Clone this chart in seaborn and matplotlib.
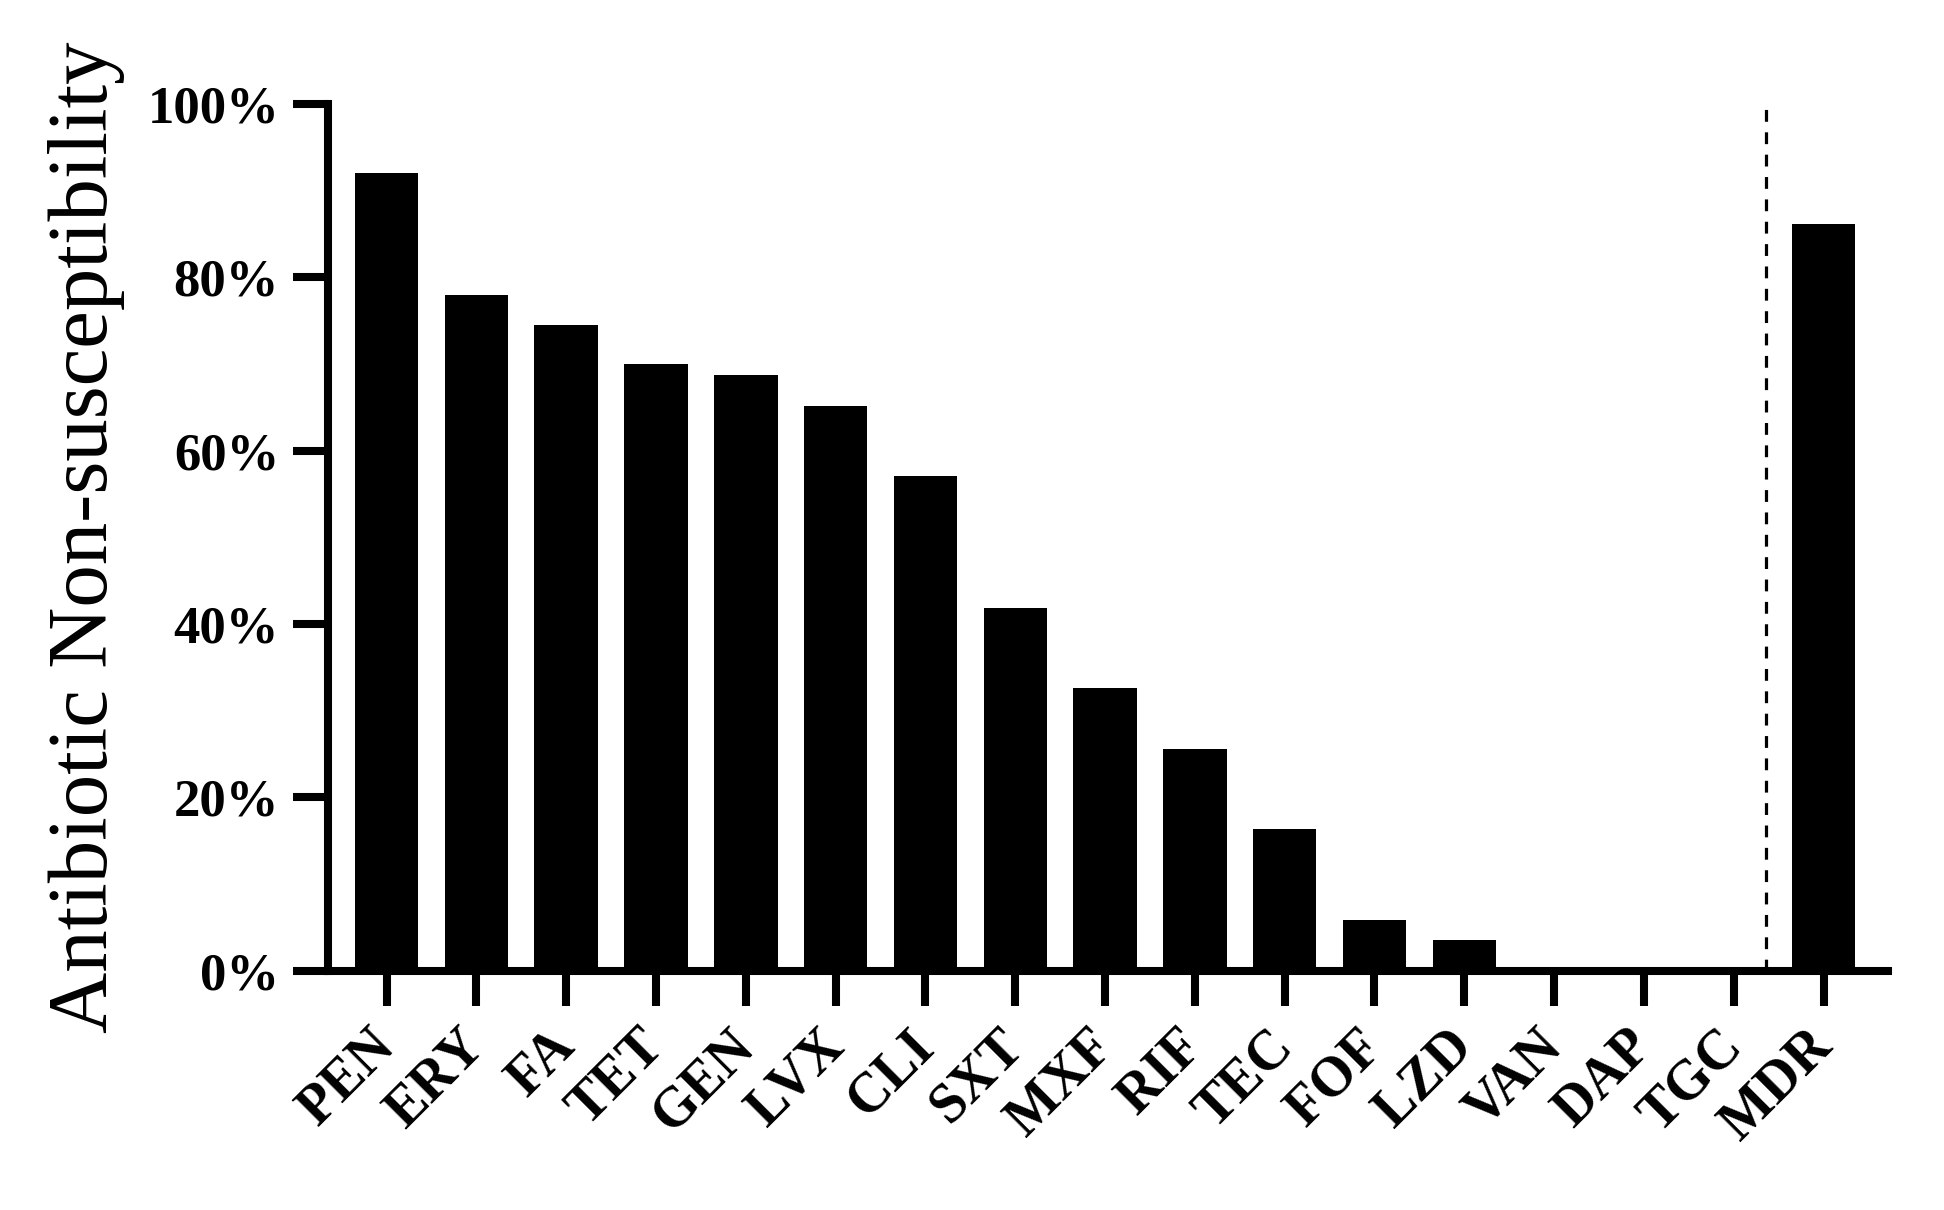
import matplotlib
matplotlib.use("Agg")
import matplotlib.pyplot as plt
import matplotlib.transforms as mtransforms
import seaborn as sns
import pandas as pd

# ---- data ----
antibiotics = ["PEN", "ERY", "FA", "TET", "GEN", "LVX", "CLI", "SXT", "MXF",
               "RIF", "TEC", "FOF", "LZD", "VAN", "DAP", "TGC", "MDR"]
non_susceptibility = [92.0, 78.0, 74.5, 70.0, 68.7, 65.2, 57.1, 41.9, 32.6,
                      25.6, 16.4, 5.9, 3.5, 0.0, 0.0, 0.0, 86.2]
y_ticks = [0, 20, 40, 60, 80, 100]
y_tick_labels = ["0%", "20%", "40%", "60%", "80%", "100%"]
separator_pos = 15.36  # dashed divider between TGC and MDR

df = pd.DataFrame({"antibiotic": antibiotics, "value": non_susceptibility})

sns.set_style("ticks")
plt.rcParams["font.family"] = ["Liberation Serif", "DejaVu Serif"]
for key in ["text.color", "axes.labelcolor", "xtick.color", "ytick.color",
            "axes.edgecolor"]:
    plt.rcParams[key] = "black"

fig = plt.figure(figsize=(19.44, 12.10), dpi=100)
ax = fig.add_axes([0.1686, 0.1978, 0.8027, 0.7162])

sns.barplot(data=df, x="antibiotic", y="value", color="black", saturation=1,
            width=0.707, ax=ax, edgecolor="black", linewidth=0)

ax.vlines(separator_pos, 0, 100, colors="black", linewidth=2.3,
          linestyles=(0, (3.7, 3.3)))

ax.set_xlim(-0.655, len(antibiotics) - 1 + 0.72)
ax.set_ylim(0, 100)
ax.set_yticks(y_ticks)
ax.set_yticklabels(y_tick_labels, fontsize=38, fontweight="bold")
ax.set_xticks(range(len(antibiotics)))
ax.set_xticklabels(antibiotics, fontsize=40, fontweight="bold", rotation=45,
                   ha="right", va="center", rotation_mode="anchor")
shift = mtransforms.ScaledTranslation(0.06, 0, fig.dpi_scale_trans)
for lbl in ax.get_xticklabels():
    lbl.set_transform(lbl.get_transform() + shift)

for side in ["top", "right"]:
    ax.spines[side].set_visible(False)
for side in ["left", "bottom"]:
    ax.spines[side].set_linewidth(5.8)
    ax.spines[side].set_color("black")

ax.tick_params(axis="y", length=25, width=5.8, pad=10, color="black")
ax.tick_params(axis="x", length=25, width=5.8, pad=24, color="black")

ax.set_xlabel("")
ax.set_ylabel("Antibiotic Non-susceptibility", fontsize=61, labelpad=16)

fig.savefig("out.png", dpi=100, facecolor="white")
